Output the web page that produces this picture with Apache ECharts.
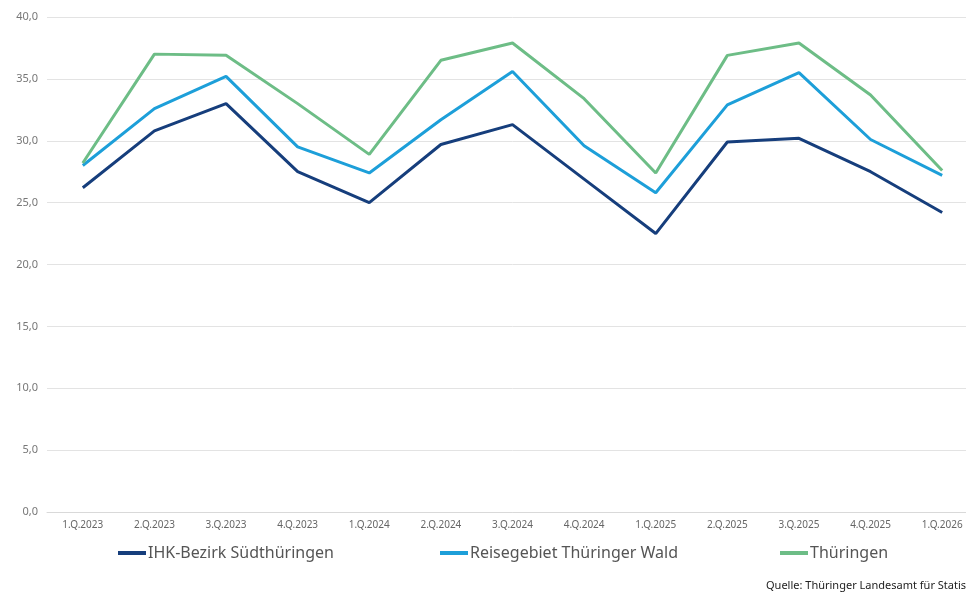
<!DOCTYPE html>
<html>
<head>
<meta charset="utf-8">
<script src="https://cdn.jsdelivr.net/npm/echarts@6/dist/echarts.min.js"></script>
<style>html,body{margin:0;padding:0;background:#fff;overflow:hidden}#c{width:980px;height:593px}</style>
</head>
<body>
<div id="c"></div>
<script>
var categories = ['1.Q.2023','2.Q.2023','3.Q.2023','4.Q.2023','1.Q.2024','2.Q.2024','3.Q.2024','4.Q.2024','1.Q.2025','2.Q.2025','3.Q.2025','4.Q.2025','1.Q.2026'];
var ihk = [26.2, 30.8, 33.0, 27.5, 25.0, 29.7, 31.3, 26.9, 22.5, 29.9, 30.2, 27.5, 24.2];
var reisegebiet = [28.0, 32.6, 35.2, 29.5, 27.4, 31.7, 35.6, 29.6, 25.8, 32.9, 35.5, 30.1, 27.2];
var thueringen = [28.2, 37.0, 36.9, 33.0, 28.9, 36.5, 37.9, 33.4, 27.4, 36.9, 37.9, 33.7, 27.6];
var seriesNames = ['IHK-Bezirk Südthüringen', 'Reisegebiet Thüringer Wald', 'Thüringen'];
var sourceText = 'Quelle: Thüringer Landesamt für Statistik';

var colors = ['#163e7c', '#1d9fd9', '#6dbd86'];
var chart = echarts.init(document.getElementById('c'), null, {renderer: 'canvas'});
var legendBase = {
  top: 540, itemWidth: 28, itemHeight: 4, itemGap: 0, icon: 'rect',
  textStyle: {fontFamily: 'Noto Sans', fontSize: 16, color: '#555', padding: [0,0,0,-3]}
};
function mkLegend(name, left) {
  var o = JSON.parse(JSON.stringify(legendBase));
  o.left = left; o.data = [name];
  return o;
}
chart.setOption({
  animation: false,
  color: colors,
  grid: {left: 47, top: 17, right: 2, bottom: 81, containLabel: false},
  legend: [mkLegend(seriesNames[0], 113), mkLegend(seriesNames[1], 435), mkLegend(seriesNames[2], 775)],
  xAxis: {
    type: 'category', data: categories, boundaryGap: true,
    axisLine: {show: true, lineStyle: {color: '#d9d9d9', width: 1}},
    axisTick: {show: false},
    axisLabel: {color: '#666', fontSize: 10, fontFamily: 'Noto Sans', margin: 8, interval: 0}
  },
  yAxis: {
    type: 'value', min: 0, max: 40, interval: 5,
    axisLine: {show: false}, axisTick: {show: false},
    splitLine: {lineStyle: {color: '#e3e3e3', width: 1}},
    axisLabel: {color: '#777', fontSize: 11, fontFamily: 'Noto Sans', margin: 9,
      formatter: function (v) { return v.toFixed(1).replace('.', ','); }}
  },
  series: [
    {name: seriesNames[0], type: 'line', data: ihk, symbol: 'none', lineStyle: {width: 3, color: colors[0]}},
    {name: seriesNames[1], type: 'line', data: reisegebiet, symbol: 'none', lineStyle: {width: 3, color: colors[1]}},
    {name: seriesNames[2], type: 'line', data: thueringen, symbol: 'none', lineStyle: {width: 3, color: colors[2]}}
  ],
  graphic: [{
    type: 'text', left: 766, top: 580,
    style: {text: sourceText, fontFamily: 'Noto Sans', fontSize: 11, fill: '#222'}
  }]
});
</script>
</body>
</html>
